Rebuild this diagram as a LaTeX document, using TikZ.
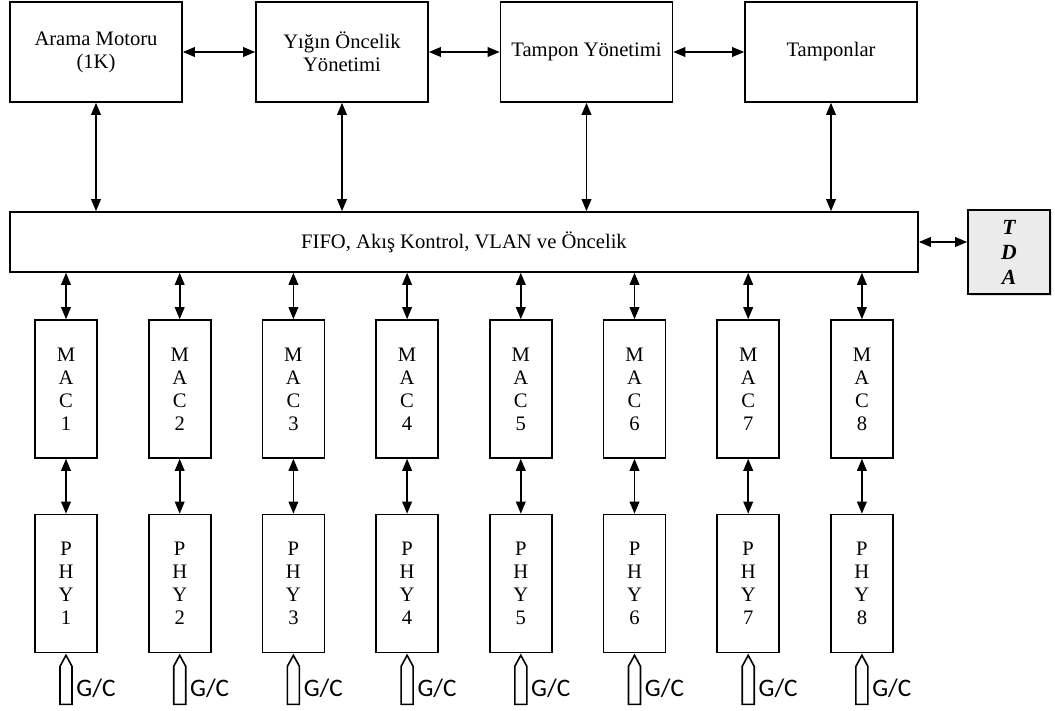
\documentclass[tikz,border=0pt]{standalone}
\usepackage{fontspec}
\setmainfont{Liberation Serif}
\newfontfamily\gcfont{Carlito}
\usepackage{tikz}
\usetikzlibrary{arrows.meta, positioning, calc, shadows}

\begin{document}
\begin{tikzpicture}[x=0.5pt, y=-0.5pt,
  blok/.style={draw, line width=0.8pt, minimum width=86pt, minimum height=50pt,
               align=center, font=\fontsize{10.3}{11.5}\selectfont},
  port/.style={draw, line width=0.8pt, minimum width=31pt, minimum height=69pt,
               align=center, font=\fontsize{10.3}{11.5}\selectfont},
  arr/.style={{Triangle[length=6pt,width=4.8pt]}-{Triangle[length=6pt,width=4.8pt]},
              line width=0.8pt},
  gcok/.style={draw, line width=0.8pt, fill=white},
  gclbl/.style={anchor=west, inner sep=0pt, font=\gcfont\fontsize{12.6}{12.6}\selectfont}
]
\useasboundingbox (0,0) rectangle (1055,711);

% ust bloklar
\node[blok] (arama)  at (96,52)    {Arama Motoru\\(1K)};
\node[blok] (yigin)  at (342,52)   {Yığın Öncelik\\Yönetimi};
\node[blok] (tyon)   at (586.5,52) {Tampon Yönetimi};
\node[blok] (tampon) at (831,52)   {Tamponlar};

\node[draw, line width=0.8pt, minimum width=454pt, minimum height=30pt,
      font=\fontsize{10.3}{11.5}\selectfont] (fifo) at (464,242)
  {FIFO, Akış Kontrol, VLAN ve Öncelik};

\node[draw, line width=0.8pt, fill=black!8, minimum width=41pt, minimum height=42pt,
      align=center, font=\bfseries\itshape\fontsize{10.8}{12.5}\selectfont,
      drop shadow={opacity=0.25, shadow xshift=0.8pt, shadow yshift=-0.8pt}]
  (tda) at (1009,252) {T\\D\\A};

\draw[arr] (arama) -- (yigin);
\draw[arr] (yigin) -- (tyon);
\draw[arr] (tyon) -- (tampon);
\draw[arr] (arama.south)  -- (arama.south |- fifo.north);
\draw[arr] (yigin.south)  -- (yigin.south |- fifo.north);
\draw[arr] (tyon.south)   -- (tyon.south |- fifo.north);
\draw[arr] (tampon.south) -- (tampon.south |- fifo.north);
\draw[arr] (fifo.east) -- (fifo.east -| tda.west);

% MAC ve PHY
\node[port] (mac1) at (66,389)    {M\\A\\C\\1};
\node[port] (mac2) at (179.7,389) {M\\A\\C\\2};
\node[port] (mac3) at (293.4,389) {M\\A\\C\\3};
\node[port] (mac4) at (407.1,389) {M\\A\\C\\4};
\node[port] (mac5) at (520.8,389) {M\\A\\C\\5};
\node[port] (mac6) at (634.5,389) {M\\A\\C\\6};
\node[port] (mac7) at (748.2,389) {M\\A\\C\\7};
\node[port] (mac8) at (861.9,389) {M\\A\\C\\8};

\node[port] (phy1) at (66,583.5)    {P\\H\\Y\\1};
\node[port] (phy2) at (179.7,583.5) {P\\H\\Y\\2};
\node[port] (phy3) at (293.4,583.5) {P\\H\\Y\\3};
\node[port] (phy4) at (407.1,583.5) {P\\H\\Y\\4};
\node[port] (phy5) at (520.8,583.5) {P\\H\\Y\\5};
\node[port] (phy6) at (634.5,583.5) {P\\H\\Y\\6};
\node[port] (phy7) at (748.2,583.5) {P\\H\\Y\\7};
\node[port] (phy8) at (861.9,583.5) {P\\H\\Y\\8};

\foreach \i in {1,...,8} {
  \draw[arr] (mac\i.north |- fifo.south) -- (mac\i.north);
  \draw[arr] (mac\i.south) -- (phy\i.north);
  % G/C girisi
  \draw[gcok] ([xshift=-3pt,yshift=-25.5pt]phy\i.south) -- ([xshift=-3pt,yshift=-6.5pt]phy\i.south)
    -- ([yshift=-1pt]phy\i.south) -- ([xshift=3pt,yshift=-6.5pt]phy\i.south)
    -- ([xshift=3pt,yshift=-25.5pt]phy\i.south) -- cycle;
  \node[gclbl] (gc\i) at ([xshift=5pt,yshift=-17.5pt]phy\i.south) {G/C};
}

\end{tikzpicture}
\end{document}
